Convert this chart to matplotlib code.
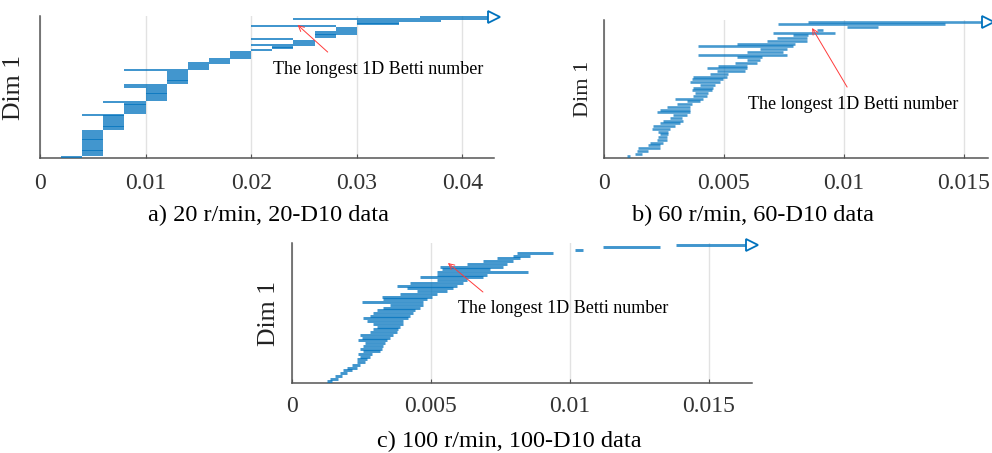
import numpy as np
import matplotlib
matplotlib.use('Agg')
import matplotlib.pyplot as plt

plt.rcParams['font.family'] = ['Liberation Serif', 'DejaVu Serif']

inf = np.inf

# panel a: bars are quantised, so (birth, death, number of identical bars), bottom to top
births_a = [0.002, 0.004, 0.006, 0.004, 0.008, 0.006, 0.010, 0.008, 0.012, 0.008,
            0.014, 0.014, 0.016, 0.018, 0.020, 0.022, 0.020, 0.024, 0.020, 0.026,
            0.026, 0.028, 0.020, 0.030, 0.030, 0.024, 0.036]
deaths_a = [0.004, 0.006, 0.008, 0.008, 0.010, 0.010, 0.012, 0.012, 0.014, 0.014,
            0.016, 0.018, 0.018, 0.020, 0.022, 0.024, 0.026, 0.026, 0.024, 0.028,
            0.030, 0.030, 0.028, 0.034, 0.038, 0.0428, inf]
counts_a = [1, 14, 8, 1, 6, 1, 7, 2, 7, 1,
            3, 1, 2, 4, 1, 2, 1, 2, 1, 2,
            2, 2, 1, 2, 1, 1, 1]

# panel b, bottom to top
births_b = [0.00095, 0.00129, 0.00139, 0.00143, 0.00185, 0.00192, 0.00219, 0.00226,
            0.00233, 0.00226, 0.00199, 0.00206, 0.00233, 0.00247, 0.00275, 0.00289,
            0.00219, 0.00233, 0.00261, 0.00303, 0.00344, 0.00296, 0.00372, 0.00379,
            0.00365, 0.00372, 0.00400, 0.00358, 0.00365, 0.00372, 0.00442, 0.00469,
            0.00428, 0.00476, 0.00546, 0.00594, 0.00553, 0.00393, 0.00594, 0.00650,
            0.00393, 0.00553, 0.00678, 0.00719, 0.00789, 0.00706, 0.00886, 0.01011,
            0.00726, 0.00851]
deaths_b = [0.00110, 0.00157, 0.00185, 0.00233, 0.00233, 0.00247, 0.00261, 0.00261,
            0.00268, 0.00268, 0.00275, 0.00296, 0.00317, 0.00331, 0.00324, 0.00344,
            0.00358, 0.00358, 0.00358, 0.00365, 0.00400, 0.00414, 0.00428, 0.00435,
            0.00449, 0.00456, 0.00463, 0.00483, 0.00497, 0.00511, 0.00518, 0.00588,
            0.00594, 0.00594, 0.00636, 0.00650, 0.00657, 0.00761, 0.00747, 0.00761,
            0.00789, 0.00796, 0.00844, 0.00844, 0.00851, 0.00963, 0.00914, 0.01143,
            0.01421, inf]

# panel c, bottom to top
births_c = [0.00125, 0.00137, 0.00155, 0.00173, 0.00185, 0.00197, 0.00215, 0.00233,
            0.00233, 0.00245, 0.00239, 0.00257, 0.00245, 0.00257, 0.00263, 0.00239,
            0.00251, 0.00245, 0.00281, 0.00293, 0.00305, 0.00293, 0.00269, 0.00257,
            0.00281, 0.00293, 0.00305, 0.00329, 0.00353, 0.00251, 0.00329, 0.00323,
            0.00388, 0.00448, 0.00413, 0.00377, 0.00424, 0.00520, 0.00460, 0.00520,
            0.00520, 0.00538, 0.00532, 0.00628, 0.00688, 0.00736, 0.00796, 0.00808,
            0.01018, 0.01120, 0.01383]
deaths_c = [0.00143, 0.00167, 0.00179, 0.00197, 0.00215, 0.00233, 0.00245, 0.00263,
            0.00269, 0.00281, 0.00287, 0.00317, 0.00323, 0.00329, 0.00335, 0.00341,
            0.00353, 0.00365, 0.00377, 0.00382, 0.00388, 0.00400, 0.00400, 0.00418,
            0.00424, 0.00436, 0.00442, 0.00460, 0.00472, 0.00472, 0.00484, 0.00502,
            0.00520, 0.00556, 0.00580, 0.00592, 0.00616, 0.00628, 0.00688, 0.00700,
            0.00850, 0.00712, 0.00760, 0.00772, 0.00796, 0.00820, 0.00856, 0.00940,
            0.01048, 0.01324, inf]

ticks_a = [0, 0.01, 0.02, 0.03, 0.04]
ticks_bc = [0, 0.005, 0.01, 0.015]
captions = ['a) 20 r/min, 20-D10 data', 'b) 60 r/min, 60-D10 data',
            'c) 100 r/min, 100-D10 data']
note = 'The longest 1D Betti number'

BLUE = '#0072BD'
W, H = 992, 453


def px_axes(fig, left, top, right, bottom):
    return fig.add_axes([left / W, 1 - bottom / H, (right - left) / W, (bottom - top) / H])


def barcode(ax, births, deaths, xmax, ticks, labelpad, lw, alpha):
    births = np.asarray(births)
    deaths = np.asarray(deaths)
    n = len(births)
    y = np.arange(n)
    ends = np.minimum(deaths, xmax)
    ax.hlines(y, births, ends, color=BLUE, lw=lw, alpha=alpha, zorder=3)
    open_end = np.isinf(deaths)
    ax.plot(ends[open_end], y[open_end], '>', ms=8, mfc='white', mec=BLUE,
            mew=1.3, clip_on=False, zorder=5)
    ax.set_xlim(0, xmax)
    ax.set_ylim(-0.6, n - 0.4)
    ax.set_xticks(ticks)
    ax.set_xticklabels(['0' if t == 0 else ('%g' % t) for t in ticks])
    ax.set_yticks([])
    ax.grid(axis='x', color='#e2e2e2', lw=1.0)
    ax.set_axisbelow(True)
    for s in ['top', 'right']:
        ax.spines[s].set_visible(False)
    for s in ['left', 'bottom']:
        ax.spines[s].set_color('#555555')
        ax.spines[s].set_linewidth(1.1)
    ax.tick_params(axis='x', direction='in', length=3, color='#555555',
                   labelsize=17, labelcolor='#333333', pad=labelpad)


fig = plt.figure(figsize=(W / 100, H / 100), dpi=100)

ax_a = px_axes(fig, 40, 16, 494, 158)
barcode(ax_a, np.repeat(births_a, counts_a), np.repeat(deaths_a, counts_a),
        0.043, ticks_a, 11, 1.3, 0.82)
ax_b = px_axes(fig, 604, 20, 988, 158)
barcode(ax_b, births_b, deaths_b, 0.016, ticks_bc, 11, 1.9, 0.72)
ax_c = px_axes(fig, 292, 243, 752, 383)
barcode(ax_c, births_c, deaths_c, 0.01655, ticks_bc, 9, 2.1, 0.75)

# y labels
ax_a.set_ylabel('Dim 1', fontsize=18.5, color='#222222')
ax_a.yaxis.set_label_coords(-0.033, 0.5)
ax_b.set_ylabel('Dim 1', fontsize=16, color='#222222')
ax_b.yaxis.set_label_coords(-0.029, 0.5)
ax_c.set_ylabel('Dim 1', fontsize=18.5, color='#222222')
ax_c.yaxis.set_label_coords(-0.026, 0.5)

# annotations: (text x, text y frac), (arrow start), (arrow tip)
for ax, txt_xy, start, tip in [
        (ax_a, (0.02204, 0.620), (0.02725, 0.746), (0.0244, 0.937)),
        (ax_b, (0.0060, 0.391), (0.01013, 0.514), (0.00867, 0.942)),
        (ax_c, (0.00597, 0.529), (0.00687, 0.650), (0.00561, 0.857))]:
    ax.annotate('', xy=tip, xytext=start, xycoords=('data', 'axes fraction'),
                textcoords=('data', 'axes fraction'),
                arrowprops=dict(arrowstyle='->,head_length=0.4,head_width=0.2',
                                color='#ff3b3b', lw=0.7, shrinkA=0, shrinkB=0),
                zorder=6)
    ax.text(txt_xy[0], txt_xy[1], note, transform=ax.get_xaxis_transform(),
            fontsize=13, ha='left', va='center', color='black', zorder=6)

# captions
fig.text(268 / W, 1 - 215 / H, captions[0], fontsize=17.5, ha='center', va='center')
fig.text(753 / W, 1 - 215 / H, captions[1], fontsize=17.5, ha='center', va='center')
fig.text(509 / W, 1 - 441 / H, captions[2], fontsize=17.5, ha='center', va='center')

fig.savefig('out.png', dpi=100)
